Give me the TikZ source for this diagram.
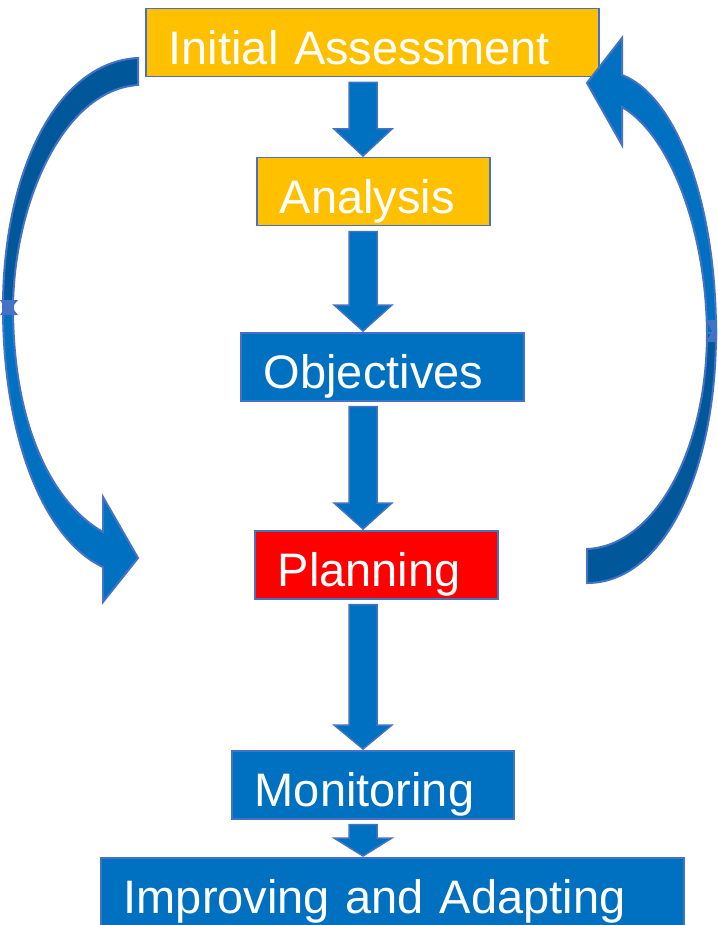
\documentclass[tikz,border=0pt]{standalone}
\usepackage{fontspec}
\setmainfont{Liberation Sans}
\usepackage{tikz}
\usetikzlibrary{calc}

\definecolor{amber}{RGB}{255,192,0}
\definecolor{stepblue}{RGB}{0,112,192}
\definecolor{edgeblue}{RGB}{68,114,196}
\definecolor{backblue}{RGB}{0,88,155}

% block arrow straight down, on the column x = 363
\newcommand{\flowarrow}[3][26]{%
	\path (ax |- #2.south) coordinate (s) (ax |- #3.north) coordinate (t);
	\filldraw[blockarrow] ($(s)+(-14,5)$) -- ($(s)+(14,5)$) -- ($(t)+(14,-#1-1)$)
		-- ($(t)+(29,-#1-1)$) -- ($(t)+(0,-1)$) -- ($(t)+(-29,-#1-1)$)
		-- ($(t)+(-14,-#1-1)$) -- cycle;}

\begin{document}
\begin{tikzpicture}[x=1pt, y=-1pt]
		\tikzset{stepbox/.style={draw = edgeblue, line width = 1.5pt, text = white,
				font = \fontsize{47}{50}\selectfont, align = left,
				inner xsep = 23pt, inner ysep = 0pt, minimum height = 68pt,
				text height = 44pt, text depth = 0pt, anchor = north west}}
		\tikzset{blockarrow/.style={fill = stepblue, draw = edgeblue, line width = 1.5pt,
				line join = miter}}
		\tikzset{loopband/.style={draw = edgeblue, line width = 2pt, line join = miter}}
		\useasboundingbox (0,0) rectangle (717,925);
		\coordinate (ax) at (363,0);
		%boxes
		\node[stepbox, fill = amber, text width = 407pt] (init) at (145,8) {Initial Assessment};
		\node[stepbox, fill = amber, text width = 187pt] (anal) at (256,157) {Analysis};
		\node[stepbox, fill = stepblue, text width = 237pt] (obj) at (240,332) {Objectives};
		\node[stepbox, fill = red, text width = 197pt] (plan) at (254,530) {Planning};
		\node[stepbox, fill = stepblue, text width = 236pt] (mon) at (231,750) {Monitoring};
		\node[stepbox, fill = stepblue, text width = 537pt] (imp) at (100,857) {Improving and Adapting};
		%arrows
		\flowarrow[27]{init}{anal}
		\flowarrow{anal}{obj}
		\flowarrow{obj}{plan}
		\flowarrow[24]{plan}{mon}
		\flowarrow[18]{mon}{imp}
		%left loop
		\filldraw[loopband, fill = backblue] (138,58) .. controls (55,62) and (3,175) .. (3,307)
			-- (13,307) .. controls (14,205) and (62,90) .. (138,85) -- cycle;
		\filldraw[loopband, fill = stepblue] (3,307) .. controls (3,440) and (45,540) .. (103,567)
			-- (103,602) -- (138,558) -- (103,497) -- (103,532)
			.. controls (55,505) and (13,430) .. (13,307) -- cycle;
		\fill[edgeblue] (0,300) -- (18,300) -- (12,307.5) -- (18,315) -- (0,315) -- (5,307.5) -- cycle;
		%right loop
		\filldraw[loopband, fill = stepblue] (622,75) .. controls (675,95) and (716,200) .. (716,333)
			-- (707,333) .. controls (706,230) and (670,135) .. (622,107)
			-- (622,145) -- (587,83) -- (622,38) -- cycle;
		\filldraw[loopband, fill = backblue] (716,333) .. controls (716,470) and (665,583) .. (587,583)
			-- (587,549) .. controls (655,546) and (707,450) .. (707,333) -- cycle;
		\fill[edgeblue] (717,320) -- (706,320) -- (712,331) -- (706,342) -- (717,342) -- cycle;
\end{tikzpicture}
\end{document}
